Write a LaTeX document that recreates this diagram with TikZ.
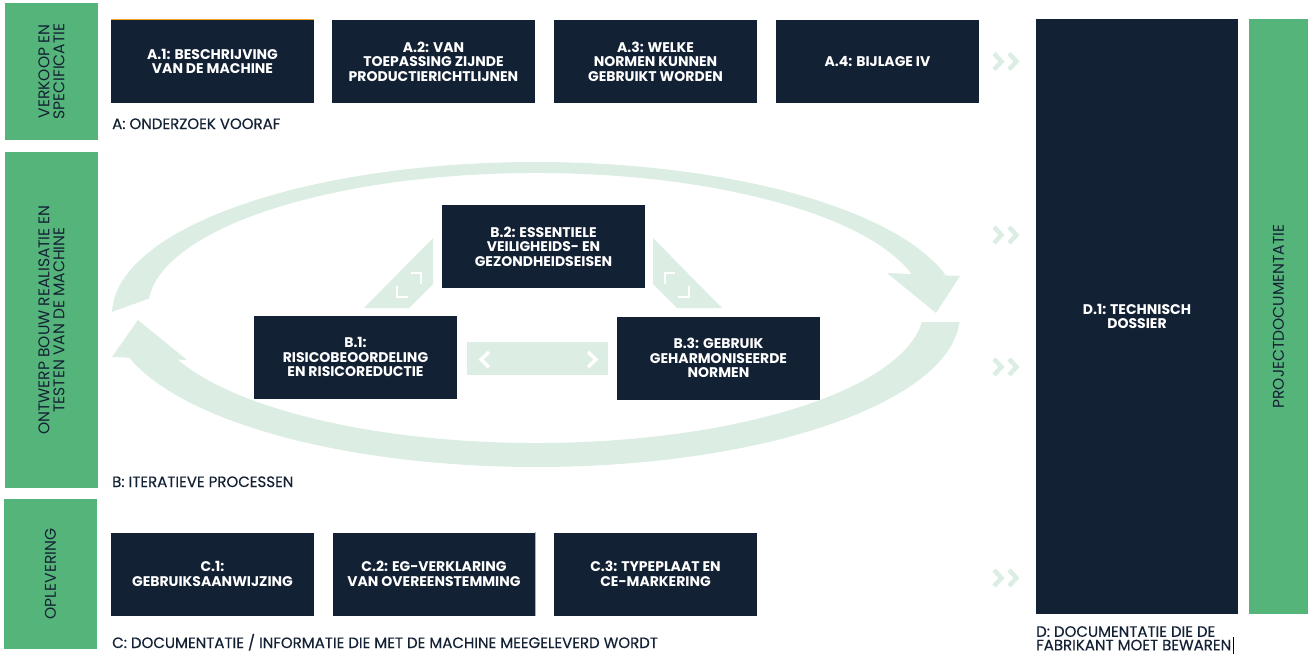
\documentclass[tikz,border=0pt]{standalone}
\usepackage{fontspec}
\setmainfont{Poppins}
\newfontfamily\medfont{Poppins}[FakeBold=0.4]
\usetikzlibrary{calc}
\definecolor{navy}{HTML}{132134}
\definecolor{leaf}{HTML}{55B47A}
\definecolor{pale}{HTML}{DCEDE3}
\definecolor{edge}{HTML}{F5A623}
\tikzset{
  pics/chevrons/.style={
    code={%
      \foreach \dx in {-13,2}
      \draw[pale, line width=4.5pt, miter limit=10] (\dx,-8) -- ++(7.5,8) -- ++(-7.5,8);
    }
  },
  pics/corners/.style={
    code={%
      \draw[white, line width=2.5pt] (-10,-12) -- (0,-12) -- (0,-1);
      \draw[white, line width=2.5pt] (-24,1) -- (-24,12) -- (-13,12);
    }
  },
}

\begin{document}
\begin{tikzpicture}[
      x=1pt,y=-1pt,
      blk/.style={shape=rectangle, fill=navy, text=white, align=center, inner sep=0pt,
        minimum width=203pt, minimum height=83pt,
        font=\bfseries\fontsize{14}{14.5}\selectfont},
      bar/.style={shape=rectangle, fill=leaf, text=navy, align=center, inner sep=0pt,
        rotate=90, font=\fontsize{15.5}{15}\selectfont},
      lbl/.style={text=navy, inner sep=0pt, align=left,
        font=\medfont\fontsize{15}{13.5}\selectfont},
      ]
      \useasboundingbox (0,0) rectangle (1316,658);

      % ring
      \fill[pale]
        ($(536,314.5)+(181:424 and 152.5)$)
        arc[start angle=181, end angle=345, x radius=424, y radius=152.5]
        -- ($(536,308)+(346:388 and 135)$)
        arc[start angle=346, end angle=184, x radius=388, y radius=135]
        -- cycle;
      \fill[pale] (887,273) -- (960,276) -- (936,313) -- cycle;
      \fill[pale]
        ($(536,314.5)+(2.8:424 and 152.5)$)
        arc[start angle=2.8, end angle=163.4, x radius=424, y radius=152.5]
        -- ($(536,308)+(158.3:388 and 135)$)
        arc[start angle=158.3, end angle=6, x radius=388, y radius=135]
        -- cycle;
      \fill[pale] (112,357) -- (187,360) -- (138,320) -- cycle;

      % side bars
      \node[bar, minimum width=137pt, minimum height=93pt] (sales) at (51.5,71.5)
        {VERKOOP EN\\SPECIFICATIE};
      \node[bar, minimum width=336pt, minimum height=93pt] (build) at (51.5,320)
        {ONTWERP BOUW REALISATIE EN\\TESTEN VAN DE MACHINE};
      \node[bar, minimum width=150pt, minimum height=93pt] (handover) at (50.5,574)
        {OPLEVERING};
      \node[bar, minimum width=595pt, minimum height=59pt] (project) at (1278.5,316.5)
        {PROJECTDOCUMENTATIE};

      % A
      \node[blk] (a1) at (212.5,61.5) {A.1: BESCHRIJVING\\VAN DE MACHINE};
      \node[blk] (a2) at (433.5,61.5) {A.2: VAN\\TOEPASSING ZIJNDE\\PRODUCTIERICHTLIJNEN};
      \node[blk] (a3) at (655.5,61.5) {A.3: WELKE\\NORMEN KUNNEN\\GEBRUIKT WORDEN};
      \node[blk] (a4) at (877.5,61.5) {A.4: BIJLAGE IV};
      \draw[edge, line width=1pt] (a1.north west) -- (a1.north east);
      \node[lbl, anchor=base west] (la) at (112,129) {A: ONDERZOEK VOORAF};

      % B
      \fill[pale] (364,308) -- (409,308) -- (433,284) -- (433,238) -- cycle;
      \fill[pale] (653,238) -- (653,284) -- (677,308) -- (722,308) -- cycle;
      \path (421,285) pic{corners};
      \path (665,285) pic[xscale=-1]{corners};
      \node[fill=pale, minimum width=141pt, minimum height=33pt, inner sep=0pt] (link) at (537.5,358.5) {};
      \draw[white, line width=3.5pt] (489,352) -- (481,359.5) -- (489,367);
      \draw[white, line width=3.5pt] (588,352) -- (596,359.5) -- (588,367);
      \node[blk] (b2) at (543.5,246.5) {B.2: ESSENTIELE\\VEILIGHEIDS- EN\\GEZONDHEIDSEISEN};
      \node[blk] (b1) at (355.5,357) {B.1:\\RISICOBEOORDELING\\EN RISICOREDUCTIE};
      \node[blk] (b3) at (718.5,358) {B.3: GEBRUIK\\GEHARMONISEERDE\\NORMEN};
      \node[lbl, anchor=base west] (lb) at (112,487) {B: ITERATIEVE PROCESSEN};

      % C
      \node[blk] (c1) at (212.5,574) {C.1:\\GEBRUIKSAANWIJZING};
      \node[blk] (c2) at (434,574) {C.2: EG-VERKLARING\\VAN OVEREENSTEMMING};
      \node[blk] (c3) at (655.5,574) {C.3: TYPEPLAAT EN\\CE-MARKERING};
      \draw[edge, line width=1pt] (c2.north east) -- (c2.south east);
      \node[lbl, anchor=base west] (lc) at (112,648)
        {C: DOCUMENTATIE / INFORMATIE DIE MET DE MACHINE MEEGELEVERD WORDT};

      % D
      \node[blk, minimum width=202pt, minimum height=595pt] (d1) at (1137,316.5) {D.1: TECHNISCH\\DOSSIER};
      \node[lbl, anchor=north west] (ld) at (1036,626)
        {D: DOCUMENTATIE DIE DE\\FABRIKANT MOET BEWAREN};
      \draw[black, line width=0.8pt] (ld.south east) ++(2,3) -- ++(0,-17);

      \path
        (1007,61.5) pic{chevrons}
        (1007,235)  pic{chevrons}
        (1007,367)  pic{chevrons}
        (1007,578)  pic{chevrons}
      ;
    \end{tikzpicture}
\end{document}
